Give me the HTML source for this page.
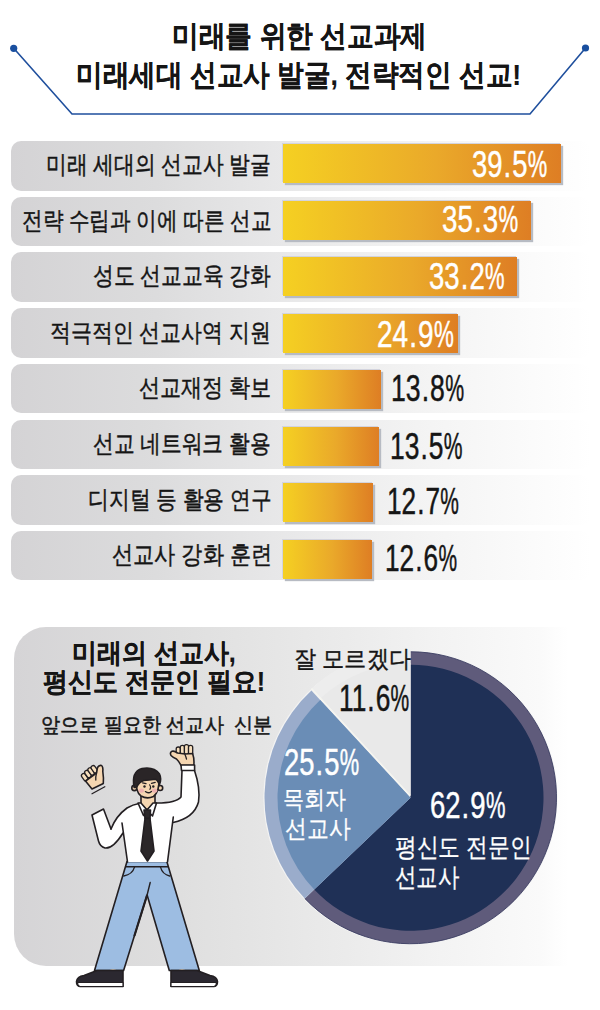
<!DOCTYPE html>
<html><head><meta charset="utf-8">
<style>
html,body{margin:0;padding:0;width:600px;height:1010px;overflow:hidden;background:#fff;}
body{position:relative;font-family:"Liberation Sans",sans-serif;color:#151515;}
.a{position:absolute;white-space:nowrap;line-height:1;transform-origin:0 0;}
.dp{margin:0 .04em;}
.pc{display:inline-block;transform:scaleX(.8);transform-origin:0 0;margin-right:-.18em;}
.row{position:absolute;left:10.5px;width:580px;height:49.5px;border-radius:10px;background:linear-gradient(90deg,#d4d3d5 0%,#dcdcdd 25%,#e7e7e8 45%,#f3f3f3 70%,#fbfbfb 90%,#fff 100%);}
.bar{position:absolute;left:283px;height:39px;background:linear-gradient(90deg,#f5d022,#eaa92a 55%,#de7e24);box-shadow:2px 2px 1px #b7bbc3,-1px -1px 0 #d3d4de;}
</style></head><body>
<svg class="a" style="left:0;top:0" width="600" height="130">
<polyline points="13.7,48.3 72,114 530,114 585.5,48" fill="none" stroke="#1f4f9d" stroke-width="1.6"/>
<circle cx="13.7" cy="48.3" r="3.6" fill="#194f9f"/>
<circle cx="585.5" cy="48" r="3.6" fill="#194f9f"/>
</svg>
<div class="a" style="left:172.4px;top:21.0px;font-size:30.11px;font-weight:700;color:#151515;-webkit-text-stroke:0.12px #151515;transform:scaleX(0.89)">미래를 위한 선교과제</div>
<div class="a" style="left:76.3px;top:60.3px;font-size:30.11px;font-weight:700;color:#151515;-webkit-text-stroke:0.12px #151515;transform:scaleX(0.8872)">미래세대 선교사 발굴, 전략적인 선교!</div>
<div class="row" style="top:141.0px"></div>
<div class="row" style="top:196.7px"></div>
<div class="row" style="top:252.4px"></div>
<div class="row" style="top:308.1px"></div>
<div class="row" style="top:363.8px"></div>
<div class="row" style="top:419.5px"></div>
<div class="row" style="top:475.2px"></div>
<div class="row" style="top:530.9px"></div>
<div class="a" style="left:46.2px;top:152.0px;font-size:24.9px;font-weight:400;color:#151515;-webkit-text-stroke:0.45px #151515;transform:scaleX(0.8308)">미래 세대의 선교사 발굴</div>
<div class="a" style="left:22px;top:208.2px;font-size:24.9px;font-weight:400;color:#151515;-webkit-text-stroke:0.45px #151515;transform:scaleX(0.824)">전략 수립과 이에 따른 선교</div>
<div class="a" style="left:93px;top:263.4px;font-size:24.9px;font-weight:400;color:#151515;-webkit-text-stroke:0.45px #151515;transform:scaleX(0.8313)">성도 선교교육 강화</div>
<div class="a" style="left:50.2px;top:319.6px;font-size:24.9px;font-weight:400;color:#151515;-webkit-text-stroke:0.45px #151515;transform:scaleX(0.836)">적극적인 선교사역 지원</div>
<div class="a" style="left:139px;top:374.8px;font-size:24.9px;font-weight:400;color:#151515;-webkit-text-stroke:0.45px #151515;transform:scaleX(0.8425)">선교재정 확보</div>
<div class="a" style="left:93.2px;top:431.0px;font-size:24.9px;font-weight:400;color:#151515;-webkit-text-stroke:0.45px #151515;transform:scaleX(0.8294)">선교 네트워크 활용</div>
<div class="a" style="left:88px;top:487.2px;font-size:24.9px;font-weight:400;color:#151515;-webkit-text-stroke:0.45px #151515;transform:scaleX(0.8314)">디지털 등 활용 연구</div>
<div class="a" style="left:112px;top:542.4px;font-size:24.9px;font-weight:400;color:#151515;-webkit-text-stroke:0.45px #151515;transform:scaleX(0.8468)">선교사 강화 훈련</div>
<div class="bar" style="top:144.0px;width:278.0px"></div>
<div class="bar" style="top:200.5px;width:248.4px"></div>
<div class="bar" style="top:257.0px;width:233.6px"></div>
<div class="bar" style="top:313.5px;width:175.4px"></div>
<div class="bar" style="top:370.0px;width:97.6px"></div>
<div class="bar" style="top:426.5px;width:95.6px"></div>
<div class="bar" style="top:483.0px;width:89.6px"></div>
<div class="bar" style="top:539.5px;width:88.6px"></div>
<div class="a" style="left:472.4px;top:146.3px;font-size:37.3px;font-weight:400;color:#fff;-webkit-text-stroke:0.5px #fff;transform:scaleX(0.7339)">39<span class="dp">.</span>5<span class="pc">%</span></div>
<div class="a" style="left:441.9px;top:201.0px;font-size:37.3px;font-weight:400;color:#fff;-webkit-text-stroke:0.5px #fff;transform:scaleX(0.7421)">35<span class="dp">.</span>3<span class="pc">%</span></div>
<div class="a" style="left:428.8px;top:257.5px;font-size:37.3px;font-weight:400;color:#fff;-webkit-text-stroke:0.5px #fff;transform:scaleX(0.737)">33<span class="dp">.</span>2<span class="pc">%</span></div>
<div class="a" style="left:376.8px;top:316.1px;font-size:37.3px;font-weight:400;color:#fff;-webkit-text-stroke:0.5px #fff;transform:scaleX(0.7488)">24<span class="dp">.</span>9<span class="pc">%</span></div>
<div class="a" style="left:390.9px;top:370.1px;font-size:37.3px;font-weight:400;color:#151515;-webkit-text-stroke:0.5px #151515;transform:scaleX(0.7133)">13<span class="dp">.</span>8<span class="pc">%</span></div>
<div class="a" style="left:389.9px;top:427.5px;font-size:37.3px;font-weight:400;color:#151515;-webkit-text-stroke:0.5px #151515;transform:scaleX(0.7073)">13<span class="dp">.</span>5<span class="pc">%</span></div>
<div class="a" style="left:386.9px;top:482.9px;font-size:37.3px;font-weight:400;color:#151515;-webkit-text-stroke:0.5px #151515;transform:scaleX(0.7016)">12<span class="dp">.</span>7<span class="pc">%</span></div>
<div class="a" style="left:384.9px;top:540.1px;font-size:37.3px;font-weight:400;color:#151515;-webkit-text-stroke:0.5px #151515;transform:scaleX(0.7025)">12<span class="dp">.</span>6<span class="pc">%</span></div>
<div class="a" style="left:13.5px;top:627px;width:554px;height:339px;border-radius:32px 0 0 32px;background:linear-gradient(90deg,#d5d4d6 0%,#dfdfdf 30%,#ebebeb 60%,#f3f3f3 77%,#fafafa 95%,#fff 100%)"></div>
<div class="a" style="left:72.1px;top:638.6px;font-size:27.31px;font-weight:700;color:#151515;-webkit-text-stroke:0.12px #151515;transform:scaleX(0.9245)">미래의 선교사,</div>
<div class="a" style="left:42.9px;top:668.1px;font-size:27.25px;font-weight:700;color:#151515;-webkit-text-stroke:0.12px #151515;transform:scaleX(0.9247)">평신도 전문인 필요!</div>
<div class="a" style="left:40.8px;top:714.7px;font-size:21.35px;font-weight:400;color:#151515;-webkit-text-stroke:0.55px #151515;transform:scaleX(0.9091)">앞으로 필요한 선교사&nbsp;&nbsp;신분</div>
<svg class="a" style="left:0;top:0" width="600" height="1010">
<circle cx="410.5" cy="797.75" r="147.2" fill="#f3f3f3"/>
<path d="M410.5 797.75 L410.5 651.75 A146 146 0 1 1 304.77 898.43 Z" fill="#5f5b7b"/>
<path d="M410.5 651.75 A146 146 0 1 1 304.77 898.43" fill="none" stroke="#3b3d62" stroke-width=".9"/>
<path d="M410.5 797.75 L410.5 664.75 A133 133 0 1 1 314.19 889.47 Z" fill="#1f3056"/>
<path d="M410.5 797.75 L304.77 898.43 A146 146 0 0 1 311.40 690.54 Z" fill="#9aaccb"/>
<path d="M410.5 797.75 L314.19 889.47 A133 133 0 0 1 320.22 700.09 Z" fill="#6a8db6"/>
<path d="M410.5 795.6 L311.73 688.76 A145.5 145.5 0 0 1 410.5 650.1 Z" fill="#ededed"/>
<path d="M410.5 795.6 L320.56 698.30 A132.5 132.5 0 0 1 410.5 663.1 Z" fill="#e9e9e9"/>
<path d="M410.3 795.8 L311.5 688.5" fill="none" stroke="#f6f6f0" stroke-width="1.3"/>
</svg>

<div class="a" style="left:293.5px;top:646.9px;font-size:23.78px;font-weight:400;color:#151515;-webkit-text-stroke:0.4px #151515;transform:scaleX(0.9225)">잘 모르겠다</div>
<div class="a" style="left:339px;top:680.4px;font-size:37.3px;font-weight:400;color:#151515;-webkit-text-stroke:0.5px #151515;transform:scaleX(0.7046)">11<span class="dp">.</span>6<span class="pc">%</span></div>
<div class="a" style="left:284.1px;top:743.7px;font-size:37.3px;font-weight:400;color:#fff;-webkit-text-stroke:0.5px #fff;transform:scaleX(0.733)">25<span class="dp">.</span>5<span class="pc">%</span></div>
<div class="a" style="left:283.4px;top:787.4px;font-size:25.23px;font-weight:400;color:#fff;-webkit-text-stroke:0.3px #fff;transform:scaleX(0.8404)">목회자</div>
<div class="a" style="left:284.8px;top:816.2px;font-size:25.39px;font-weight:400;color:#fff;-webkit-text-stroke:0.3px #fff;transform:scaleX(0.874)">선교사</div>
<div class="a" style="left:429.6px;top:786.7px;font-size:37.3px;font-weight:400;color:#fff;-webkit-text-stroke:0.5px #fff;transform:scaleX(0.7354)">62<span class="dp">.</span>9<span class="pc">%</span></div>
<div class="a" style="left:394.6px;top:833.9px;font-size:26.4px;font-weight:400;color:#fff;-webkit-text-stroke:0.3px #fff;transform:scaleX(0.8362)">평신도 전문인</div>
<div class="a" style="left:394.6px;top:865.0px;font-size:25.88px;font-weight:400;color:#fff;-webkit-text-stroke:0.3px #fff;transform:scaleX(0.8251)">선교사</div>
<svg class="a" style="left:0;top:0" width="600" height="1010">
<g stroke="#231f22" stroke-width="1.6" stroke-linejoin="round" stroke-linecap="round">
<!-- pants -->
<path d="M127 861.5 L166.8 861.5 L199.3 970.5 L169.3 970.5 L147.1 895 L123.6 970.5 L94.5 970.5 Z" fill="#9dbde2"/>
<path d="M126 866.8 L168 866.8" fill="none"/>
<path d="M134.5 867.2 Q132.5 874.5 123.8 876" fill="none" stroke-width="1.3"/>
<path d="M160.5 867.2 Q162.5 874.5 169.6 876" fill="none" stroke-width="1.3"/>
<path d="M147.1 895 L150.2 882.5" fill="none" stroke-width="1.4"/>
<path d="M146.8 896 L134.5 935.5" fill="none" stroke-width="2.2"/>
<!-- shoes -->
<ellipse cx="113" cy="971" rx="3.6" ry="1.8" fill="#f5d6b1" stroke="none"/>
<ellipse cx="182" cy="971" rx="3.6" ry="1.8" fill="#f5d6b1" stroke="none"/>
<path d="M123 970.5 L123 986.5 L80 986.5 Q76.5 986 76.5 981.5 Q77 976.5 84 975.5 L97 970.5 Z" fill="#2b2830"/>
<path d="M77.5 982.5 L123 982.5 L123 986.5 L80 986.5 Q77.5 986 77.5 982.5 Z" fill="#fff" stroke-width="1.2"/>
<path d="M171 970.5 L171 986.5 L214 986.5 Q217.5 986 217.5 981.5 Q217 976.5 210 975.5 L197 970.5 Z" fill="#2b2830"/>
<path d="M216.5 982.5 L171 982.5 L171 986.5 L214 986.5 Q216.5 986 216.5 982.5 Z" fill="#fff" stroke-width="1.2"/>
<!-- left arm -->
<path d="M92 815 L103.5 809 L111 829 Q116 816 127 808 L123 833 Q113 849 105 848 Q100 846.5 98.5 841 Z" fill="#fff" stroke="none"/>
<path d="M123 833 Q113 849 105 848 Q100 846.5 98.5 841 L92 815 L103.5 809 L111 829" fill="none"/>
<!-- torso + raised arm -->
<path d="M111 829 Q116 816 127 808 Q133 804.5 139 803.5 L157 803 Q176 803 181 797 L182 770.5 L194.5 770.5 Q200.5 788 198.5 802 Q194 818 173 822.5 L167.5 862 L127.5 862 L122 823 Z" fill="#fff" stroke="none"/>
<path d="M111 829 Q116 816 127 808 Q133 804.5 139 803.5 L157 803 Q176 803 181 797 L182 770.5" fill="none"/>
<path d="M194.5 770.5 Q200.5 788 198.5 802 Q194 818 173 822.5" fill="none"/>
<path d="M173.3 817 L167.5 862" fill="none"/>
<path d="M122 823 L127.5 862" fill="none"/>
<!-- neck -->
<path d="M141 795 L141 804 L147 810 L155 804 L155 795 Z" fill="#f5d6b1"/>
<!-- collar -->
<path d="M138 803 L143.5 815.5 L147 810 L141 803 Z" fill="#fff"/>
<path d="M156.5 803 L152.5 816 L147 810 L153 803 Z" fill="#fff"/>
<!-- tie -->
<path d="M144 810 L150.5 810 L150 818.5 L145 818.5 Z" fill="#2b2729"/>
<path d="M145 818.5 L150 818.5 L154 851 L147.5 861 L141 851 Z" fill="#2b2729"/>
<!-- head -->
<circle cx="134.4" cy="788" r="2.6" fill="#f5d6b1"/>
<circle cx="160.2" cy="788" r="2.5" fill="#f5d6b1"/>
<path d="M136.3 778 Q135.3 792 141 796 Q147 799.5 153.5 796.5 Q159.5 792 159 778 Z" fill="#f5d6b1"/>
<path d="M134.2 787.5 Q131 772 142 768.6 Q154 766.5 159.5 774 Q162 779 159.3 785 Q158 780 155.2 779.2 Q149 780 143.8 780.5 Q139 782 136.5 787.5 Z" fill="#2a2527"/>
<!-- raised fist -->
<rect x="176.2" y="747" width="4.2" height="9" rx="2" fill="#f7dfbd" stroke-width="1.3"/>
<rect x="180.3" y="745.3" width="4.2" height="10" rx="2" fill="#f7dfbd" stroke-width="1.3"/>
<rect x="184.4" y="744.6" width="4.2" height="10" rx="2" fill="#f7dfbd" stroke-width="1.3"/>
<rect x="188.5" y="745.3" width="4.2" height="10" rx="2" fill="#f7dfbd" stroke-width="1.3"/>
<path d="M192.6 753.5 Q194.5 759 193.8 765.5 L181 765.5 Q179 761.5 176.5 759 Q173 757.5 171 755.5 Q169.5 752.5 172 751.3 Q174.5 750.7 177.5 753 L185 754 Z" fill="#f5d6b1"/>
<path d="M181 765 L194.6 765 L194.6 770.5 L181.5 770.5 Z" fill="#fff"/>
<!-- left fist -->
<rect x="82.6" y="773.2" width="4.2" height="8" rx="2" fill="#f7dfbd" stroke-width="1.3" transform="rotate(-35 84.7 777.2)"/>
<rect x="85.8" y="770" width="4.2" height="8" rx="2" fill="#f7dfbd" stroke-width="1.3" transform="rotate(-35 87.9 774)"/>
<rect x="89" y="767.4" width="4.2" height="8" rx="2" fill="#f7dfbd" stroke-width="1.3" transform="rotate(-35 91.1 771.4)"/>
<rect x="92.2" y="765.3" width="4.2" height="8" rx="2" fill="#f7dfbd" stroke-width="1.3" transform="rotate(-35 94.3 769.3)"/>
<path d="M85.5 781 L96.5 773 L97.5 767.5 Q99 764.8 101.5 765.5 Q103.3 767 102.8 771.5 Q103.8 778 103.3 783.5 L92 789 Z" fill="#f5d6b1"/>
</g>
<g stroke="#231f22" stroke-width="1.3" stroke-linecap="round" fill="none">
<path d="M92 793.8 L104.8 786.8"/>
<path d="M185 754.5 Q186 757 186.5 759"/>
<path d="M96.5 773 Q95.5 777 95.8 780"/>
<path d="M145.4 791.6 Q148.3 794 151.4 791.4"/>
<path d="M142.6 782.8 L146 783.6"/><path d="M151.5 783.4 L155.2 782.4"/><path d="M149.6 784.8 Q151.6 787.6 149.9 789.3" stroke-width="1.1"/>
</g>
<circle cx="144.5" cy="786.5" r="1.2" fill="#231f22"/>
<circle cx="153.3" cy="786.5" r="1.2" fill="#231f22"/>
<ellipse cx="141.3" cy="790.6" rx="2.7" ry="2.2" fill="#eeb2b0"/>
<ellipse cx="154.6" cy="790.6" rx="2.7" ry="2.2" fill="#eeb2b0"/>
</svg>
</body></html>
